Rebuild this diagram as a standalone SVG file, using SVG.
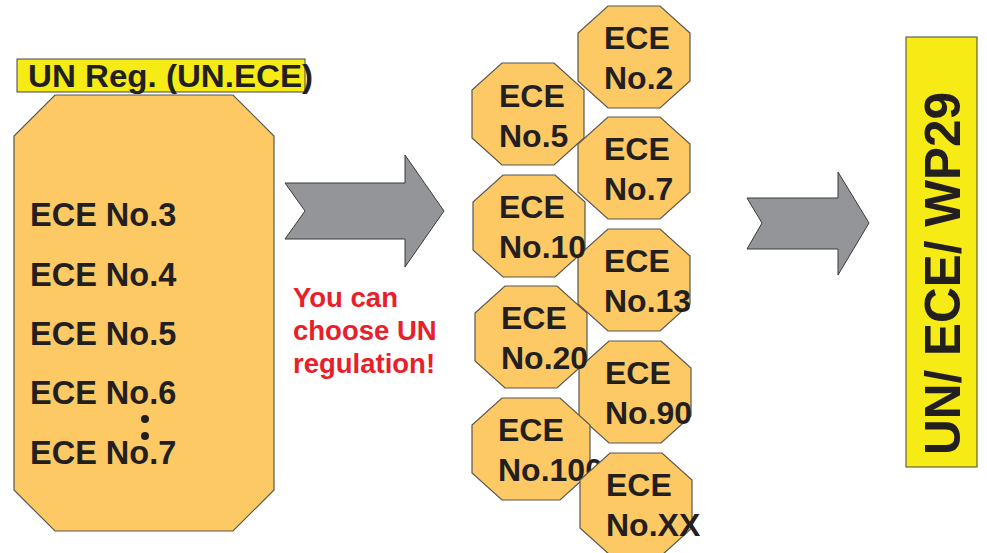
<svg xmlns="http://www.w3.org/2000/svg" xmlns:xlink="http://www.w3.org/1999/xlink" width="987" height="553" viewBox="0 0 987 553">
<style>
.oct{fill:#FDC964;stroke:#5a5650;stroke-width:1.2}
.t{font-family:"Liberation Sans",Arial,sans-serif;font-weight:bold;fill:#231F20}
.s{font-size:32px}
.red{font-family:"Liberation Sans",Arial,sans-serif;font-weight:bold;fill:#E8202A;font-size:27.5px}
.arr{fill:#939598;stroke:#3a3a3a;stroke-width:1}
.yel{fill:#F6EB14;stroke:#444;stroke-width:1}
</style>
<defs>
<polygon id="so" class="oct" points="30,0 82,0 112,27 112,75 82,102 30,102 0,75 0,27"/>
</defs>
<rect width="987" height="553" fill="#fff"/>
<g id="un-reg-label">
<rect class="yel" x="17" y="59" width="288" height="33"/>
<text class="t" x="28" y="87" font-size="31" textLength="285" lengthAdjust="spacingAndGlyphs">UN Reg. (UN.ECE)</text>
</g>
<g id="un-reg-list">
<polygon class="oct" points="55,95 233,95 274,136 274,490 233,531 55,531 14,490 14,136"/>
<g class="t" font-size="32.5">
<text x="30" y="226">ECE No.3</text>
<text x="30" y="286">ECE No.4</text>
<text x="30" y="345">ECE No.5</text>
<text x="30" y="404">ECE No.6</text>
<text x="30" y="464">ECE No.7</text>
</g>
<circle cx="145" cy="419" r="4" fill="#231F20"/>
<circle cx="145" cy="436" r="4" fill="#231F20"/>
</g>
<g id="connectors">
<polygon class="arr" points="285,183 405,183 405,155 444,211 405,267 405,239 285,239 305,211"/>
<polygon class="arr" points="747,198 838,198 838,172 869,223 838,275 838,249 747,249 762,223"/>
</g>
<g id="note">
<text class="red" x="293" y="307">You can</text>
<text class="red" x="293" y="340">choose UN</text>
<text class="red" x="293" y="373">regulation!</text>
</g>
<g id="ece2" transform="translate(578,6)"><use xlink:href="#so"/><text class="t s" x="26" y="43">ECE</text><text class="t s" x="26" y="83">No.2</text></g>
<g id="ece7" transform="translate(578,117)"><use xlink:href="#so"/><text class="t s" x="26" y="43">ECE</text><text class="t s" x="26" y="83">No.7</text></g>
<g id="ece13" transform="translate(578,229)"><use xlink:href="#so"/><text class="t s" x="26" y="43">ECE</text><text class="t s" x="26" y="83">No.13</text></g>
<g id="ece90" transform="translate(579,341)"><use xlink:href="#so"/><text class="t s" x="26" y="43">ECE</text><text class="t s" x="26" y="83">No.90</text></g>
<g id="ece5" transform="translate(472,63)"><use xlink:href="#so"/><text class="t s" x="27" y="44">ECE</text><text class="t s" x="27" y="84">No.5</text></g>
<g id="ece10" transform="translate(473,175)"><use xlink:href="#so"/><text class="t s" x="26" y="43">ECE</text><text class="t s" x="26" y="83">No.10</text></g>
<g id="ece20" transform="translate(475,286)"><use xlink:href="#so"/><text class="t s" x="26" y="43">ECE</text><text class="t s" x="26" y="83">No.20</text></g>
<g id="ece100" transform="translate(472,398)"><polygon class="oct" points="30,0 88,0 118,27 118,75 88,102 30,102 0,75 0,27"/><text class="t s" x="26" y="43">ECE</text><text class="t s" x="26" y="83">No.100</text></g>
<g id="eceXX" transform="translate(580,453)"><use xlink:href="#so"/><text class="t s" x="26" y="43">ECE</text><text class="t s" x="26" y="83">No.XX</text></g>
<g id="wp29">
<rect class="yel" x="906" y="37" width="71" height="430"/>
<text class="t" font-size="49.5" transform="translate(960,455) rotate(-90)">UN/ ECE/ WP29</text>
</g>
</svg>
